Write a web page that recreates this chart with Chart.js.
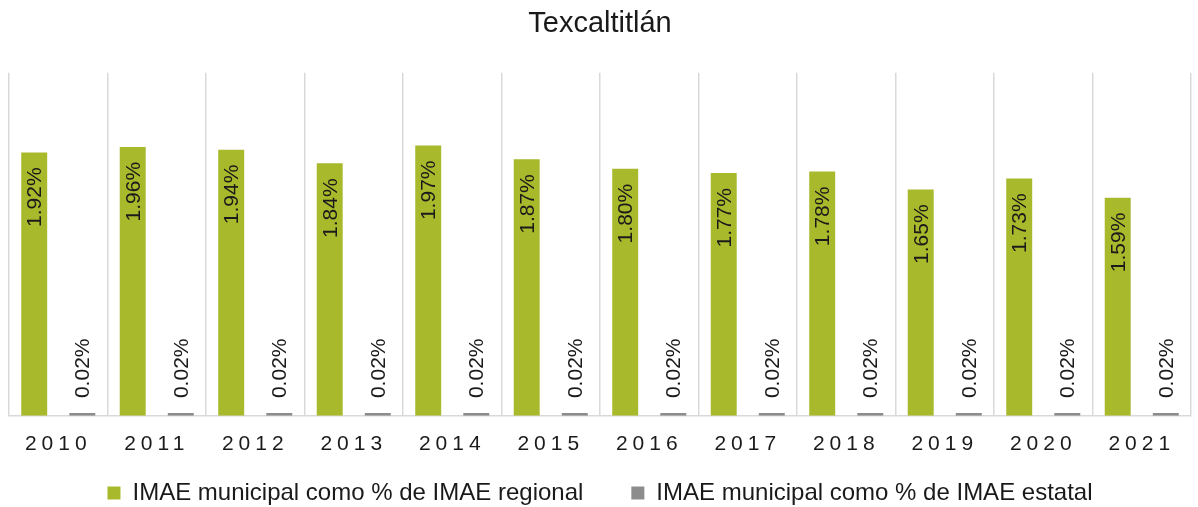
<!DOCTYPE html>
<html>
<head>
<meta charset="utf-8">
<script src="https://cdn.jsdelivr.net/npm/chart.js@4/dist/chart.umd.min.js"></script>
<style>
  html, body { margin: 0; padding: 0; background: #fff; }
  #wrap { width: 1198px; height: 507px; position: relative; }
</style>
</head>
<body>
<div id="wrap"><canvas id="grafico"></canvas></div>
<script>
'use strict';

// Datos
const anios = ['2010', '2011', '2012', '2013', '2014', '2015', '2016', '2017', '2018', '2019', '2020', '2021'];
const pctRegional = [1.92, 1.96, 1.94, 1.84, 1.97, 1.87, 1.80, 1.77, 1.78, 1.65, 1.73, 1.59];
const pctEstatal = [0.02, 0.02, 0.02, 0.02, 0.02, 0.02, 0.02, 0.02, 0.02, 0.02, 0.02, 0.02];
const nombres = ['IMAE municipal como % de IMAE regional', 'IMAE municipal como % de IMAE estatal'];

const FONT = "'Liberation Sans', Arial, sans-serif";
const TXT = '#1a1a1a';

// etiquetas rotadas sobre las barras
const etiquetas = {
  id: 'etiquetas',
  afterDatasetsDraw(chart) {
    const ctx = chart.ctx;
    ctx.save();
    ctx.font = '21px ' + FONT;
    ctx.fillStyle = TXT;
    ctx.textBaseline = 'middle';
    chart.data.datasets.forEach((ds, di) => {
      chart.getDatasetMeta(di).data.forEach((bar, i) => {
        const txt = ds.data[i].toFixed(2) + '%';
        ctx.save();
        if (di === 0) {
          ctx.translate(bar.x, bar.y + 15);
          ctx.rotate(-Math.PI / 2);
          ctx.textAlign = 'right';
        } else {
          ctx.translate(bar.x, bar.y - 15);
          ctx.rotate(-Math.PI / 2);
          ctx.textAlign = 'left';
        }
        ctx.fillText(txt, 0, 1);
        ctx.restore();
      });
    });
    ctx.restore();
  }
};

// espaciado entre letras de los años
const espaciado = {
  id: 'espaciado',
  beforeDraw(chart) {
    const sc = chart.scales.x;
    if (sc._espaciado) return;
    const orig = sc.drawLabels;
    sc.drawLabels = function (area) {
      const c = this.ctx;
      c.save();
      c.letterSpacing = '5px';
      orig.call(this, area);
      c.restore();
    };
    sc._espaciado = true;
  }
};

new Chart(document.getElementById('grafico').getContext('2d'), {
  type: 'bar',
  data: {
    labels: anios,
    datasets: [
      { label: nombres[0], data: pctRegional, backgroundColor: '#a8b92b',
        categoryPercentage: 0.976, barPercentage: 0.54 },
      { label: nombres[1], data: pctEstatal, backgroundColor: '#8c8c8c',
        categoryPercentage: 0.976, barPercentage: 0.54 }
    ]
  },
  options: {
    responsive: true,
    maintainAspectRatio: false,
    animation: false,
    layout: { padding: { left: 9, right: 7, top: 0, bottom: -8 } },
    scales: {
      x: {
        grid: { offset: true, color: '#d9d9d9', lineWidth: 1.5, drawTicks: false },
        border: { color: '#d9d9d9', width: 1.5 },
        ticks: { color: TXT, font: { family: FONT, size: 21 }, padding: 16, maxRotation: 0 }
      },
      y: { display: false, min: 0, max: 2.5 }
    },
    plugins: {
      title: {
        display: true, text: 'Texcaltitlán', color: TXT,
        font: { family: FONT, size: 29, weight: 'normal' },
        padding: { top: 7, bottom: 31 }
      },
      legend: {
        position: 'bottom',
        labels: {
          color: TXT, font: { family: FONT, size: 24 },
          boxWidth: 13, boxHeight: 13, padding: 8,
          generateLabels(chart) {
            const items = Chart.defaults.plugins.legend.labels.generateLabels(chart);
            items.forEach(it => { it.lineWidth = 0; });
            items[0].text = items[0].text + '      ';
            return items;
          }
        }
      },
      tooltip: { enabled: false }
    }
  },
  plugins: [etiquetas, espaciado]
});
</script>
</body>
</html>
